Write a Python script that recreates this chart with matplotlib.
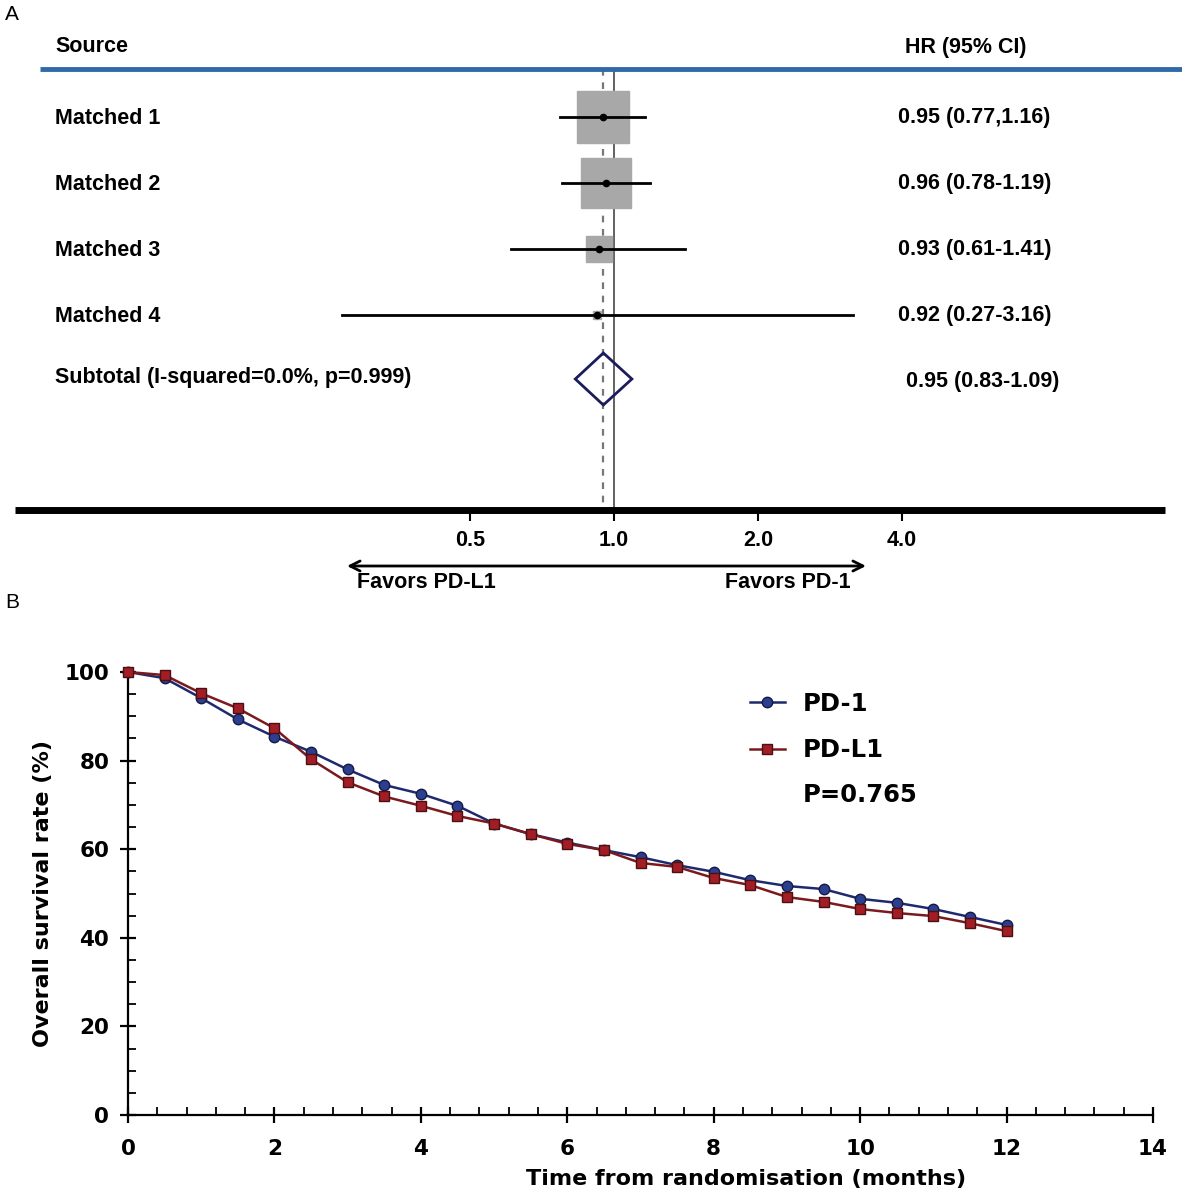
import numpy as np
import matplotlib.pyplot as plt
from matplotlib.ticker import MultipleLocator

# Panel A: forest plot data
sources = ["Matched 1", "Matched 2", "Matched 3", "Matched 4"]
hr = [0.95, 0.96, 0.93, 0.92]
ci_lo = [0.77, 0.78, 0.61, 0.27]
ci_hi = [1.16, 1.19, 1.41, 3.16]
hr_text = ["0.95 (0.77,1.16)", "0.96 (0.78-1.19)", "0.93 (0.61-1.41)", "0.92 (0.27-3.16)"]
weights = [45.3, 42.6, 10.8, 1.3]  # % weight (box area)
pooled_hr, pooled_lo, pooled_hi = 0.95, 0.83, 1.09
pooled_label = "Subtotal (I-squared=0.0%, p=0.999)"
pooled_text = "0.95 (0.83-1.09)"
hr_ticks = [0.5, 1.0, 2.0, 4.0]

# Panel B: overall survival
months = [0, 0.5, 1, 1.5, 2, 2.5, 3, 3.5, 4, 4.5, 5, 5.5, 6, 6.5, 7, 7.5, 8,
          8.5, 9, 9.5, 10, 10.5, 11, 11.5, 12]
os_pd1 = [100, 98.6, 94.1, 89.3, 85.4, 82.0, 78.0, 74.5, 72.5, 69.8, 65.8, 63.4,
          61.5, 59.8, 58.2, 56.4, 54.9, 53.0, 51.7, 51.0, 48.8, 47.9, 46.5, 44.7, 42.9]
os_pdl1 = [100, 99.3, 95.2, 91.8, 87.3, 80.3, 75.1, 71.9, 69.8, 67.5, 65.8, 63.4,
           61.2, 59.8, 56.9, 56.0, 53.5, 51.9, 49.2, 48.1, 46.5, 45.6, 44.9, 43.3, 41.5]
p_value = "P=0.765"

W, H = 1182, 1197
fig = plt.figure(figsize=(W / 100, H / 100), dpi=100)

# ---------------- Panel A ----------------
axA = fig.add_axes([0, 1 - 600 / H, 1, 600 / H])
axA.set_xscale("log", base=2)
# x pixel = 614 + 144*log2(HR)
axA.set_xlim(2 ** (-614 / 144), 2 ** ((W - 614) / 144))
axA.set_ylim(600, 0)
axA.axis("off")
fa = dict(family=["Liberation Sans", "DejaVu Sans"], fontweight="bold", fontsize=15.5)
bt = axA.get_yaxis_transform()  # x in axes fraction, y in data

rows_y = [117, 183, 249, 315]
pooled_y = 379

axA.text(55 / W, 47, "Source", transform=bt, va="center", ha="left", **fa)
axA.text(905 / W, 47, "HR (95% CI)", transform=bt, va="center", ha="left", **fa)
axA.plot([40 / W, 1], [69, 69], transform=bt, color="#2f6aa8", lw=3.5, solid_capstyle="butt")

axA.vlines(1.0, 69, 510, color="#555555", lw=1.3, zorder=1)
axA.vlines(pooled_hr, 69, 510, color="#777777", lw=1.6, linestyles=(0, (3, 3)), zorder=1)

for i in range(len(sources)):
    y = rows_y[i]
    side = 7.7 * np.sqrt(weights[i]) * 0.72
    axA.plot(hr[i], y, marker="s", ms=side, color="#a8a8a8", mec="#a8a8a8", zorder=2)
    axA.plot([ci_lo[i], ci_hi[i]], [y, y], color="black", lw=2, zorder=3)
    axA.plot(hr[i], y, marker="o", ms=4.5, color="black", zorder=4)
    axA.text(55 / W, y + 1, sources[i], transform=bt, va="center", ha="left", **fa)
    axA.text(898 / W, y, hr_text[i], transform=bt, va="center", ha="left", **fa)

axA.fill([pooled_lo, pooled_hr, pooled_hi, pooled_hr],
         [pooled_y, pooled_y - 26, pooled_y, pooled_y + 26],
         facecolor="none", edgecolor="#1c1c5c", lw=2, zorder=5)
axA.text(55 / W, pooled_y - 2, pooled_label, transform=bt, va="center", ha="left", **fa)
axA.text(906 / W, pooled_y + 2, pooled_text, transform=bt, va="center", ha="left", **fa)

axA.plot([15 / W, 1165 / W], [510, 510], transform=bt, color="black", lw=5, solid_capstyle="butt")
axA.vlines(hr_ticks, 510, 521, color="black", lw=1.5)
for t in hr_ticks:
    axA.text(t, 541, f"{t:.1f}", ha="center", va="center", **fa)

axA.annotate("", xy=(347 / W, 566), xytext=(866 / W, 566), xycoords=bt, textcoords=bt,
             arrowprops=dict(arrowstyle="<->", color="black", lw=2, mutation_scale=18,
                             shrinkA=0, shrinkB=0))
axA.text(357 / W, 583, "Favors PD-L1", transform=bt, ha="left", va="center", **fa)
axA.text(851 / W, 583, "Favors PD-1", transform=bt, ha="right", va="center", **fa)

lab = dict(family=["Liberation Sans Narrow", "Liberation Sans", "DejaVu Sans"], fontsize=15)
fig.text(5 / W, 1 - 15 / H, "A", ha="left", va="center", **lab)
fig.text(5 / W, 1 - 602 / H, "B", ha="left", va="center", **lab)

# ---------------- Panel B ----------------
axB = fig.add_axes([128 / W, 1 - 1115 / H, (1153 - 128) / W, (1115 - 672) / H])
fb = dict(family=["DejaVu Sans"], fontweight="bold")

axB.plot(months, os_pd1, color="#1f2a6e", lw=1.8, marker="o", ms=7.5,
         mfc="#2c3f8f", mec="#141a45", mew=1, label="PD-1", clip_on=False, zorder=3)
axB.plot(months, os_pdl1, color="#7a1a1e", lw=1.8, marker="s", ms=7.5,
         mfc="#a21d26", mec="#4a1012", mew=1, label="PD-L1", clip_on=False, zorder=4)

axB.set_xlim(0, 14)
axB.set_ylim(0, 100)
axB.xaxis.set_major_locator(MultipleLocator(2))
axB.xaxis.set_minor_locator(MultipleLocator(0.4))
axB.yaxis.set_major_locator(MultipleLocator(20))
axB.yaxis.set_minor_locator(MultipleLocator(5))
for s in ["top", "right"]:
    axB.spines[s].set_visible(False)
for s in ["left", "bottom"]:
    axB.spines[s].set_linewidth(1.6)
axB.tick_params(which="major", direction="inout", length=11, width=1.6, labelsize=15.5)
axB.tick_params(axis="x", which="major", pad=12)
axB.tick_params(axis="y", which="major", pad=8)
axB.tick_params(which="minor", direction="in", length=6, width=1.3)
for lbl in axB.get_xticklabels() + axB.get_yticklabels():
    lbl.set_fontweight("bold")
    lbl.set_family("DejaVu Sans")

axB.set_xlabel("Time from randomisation (months)", fontsize=16, va="center", **fb)
axB.xaxis.set_label_coords(0.603, -0.1445)
axB.set_ylabel("Overall survival rate (%)", fontsize=16, labelpad=8, **fb)

leg = axB.legend(loc="upper left", bbox_to_anchor=(0.585, 1.005), frameon=False,
                 prop=dict(family="DejaVu Sans", weight="bold", size=17.5),
                 handlelength=1.45, handletextpad=0.74, labelspacing=0.92)
axB.text((803 - 128) / 1025, (1115 - 795) / 443, p_value, transform=axB.transAxes,
         ha="left", va="center", fontsize=17.5, **fb)

fig.savefig("out.png", dpi=100)
